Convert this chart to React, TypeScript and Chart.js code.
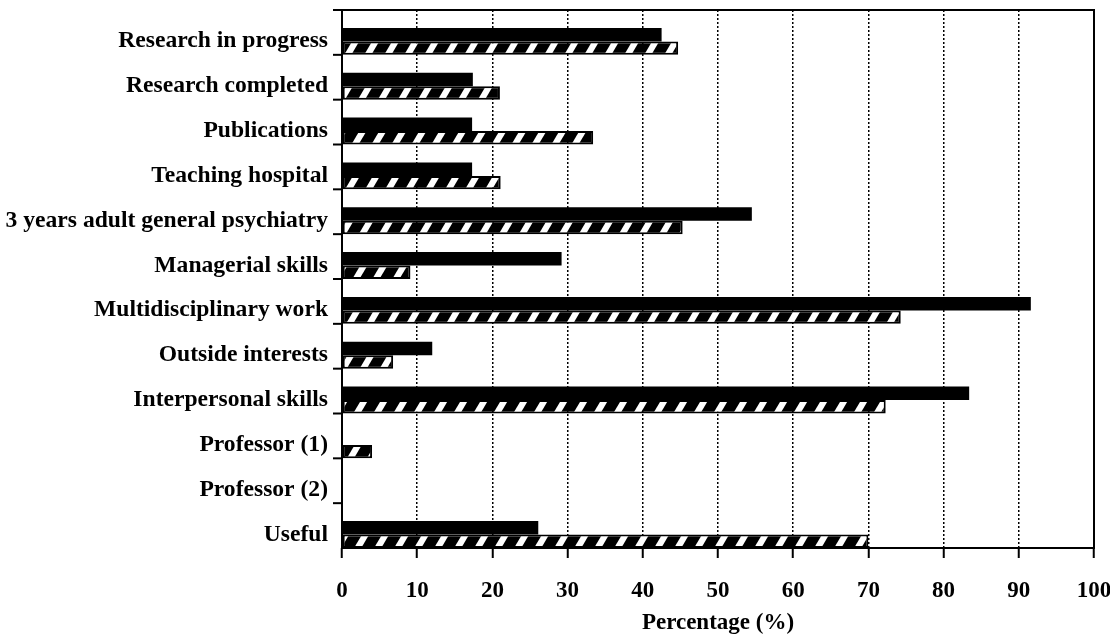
import React, { useEffect, useRef } from 'react';
import { Chart, registerables } from 'chart.js';

Chart.register(...registerables);

const categories = [
  'Research in progress',
  'Research completed',
  'Publications',
  'Teaching hospital',
  '3 years adult general psychiatry',
  'Managerial skills',
  'Multidisciplinary work',
  'Outside interests',
  'Interpersonal skills',
  'Professor (1)',
  'Professor (2)',
  'Useful',
];

const solidValues = [42.5, 17.4, 17.3, 17.3, 54.5, 29.2, 91.6, 12.0, 83.4, 0, 0, 26.1];
const hatchedValues = [44.7, 21.0, 33.4, 21.1, 45.3, 9.1, 74.3, 6.8, 72.3, 4.0, 0, 70.0];

const xTickValues = [0, 10, 20, 30, 40, 50, 60, 70, 80, 90, 100];
const xTitle = 'Percentage (%)';

const FAMILY = '"Liberation Serif", "Times New Roman", serif';
const FONT = { family: FAMILY, size: 23, weight: 'bold' as const };
const YFONT = { family: FAMILY, size: 23.6, weight: 'bold' as const };
const BAND_SHIFT = 0.7;

export default function App() {
  const ref = useRef<HTMLCanvasElement>(null);

  useEffect(() => {
    document.body.style.margin = '0';
    const canvas = ref.current!;

    const pc = document.createElement('canvas');
    const PW = 20, PH = 34;
    pc.width = PW;
    pc.height = PH;
    const p = pc.getContext('2d')!;
    p.fillStyle = '#000';
    p.fillRect(0, 0, PW, PH);
    p.strokeStyle = '#fff';
    p.lineWidth = 6.2;
    for (let dx = -2 * PW; dx <= 2 * PW; dx += PW) {
      p.beginPath();
      p.moveTo(dx - PW * 0.5, PH * 1.5);
      p.lineTo(dx + PW * 1.5, -PH * 0.5);
      p.stroke();
    }
    const pattern = canvas.getContext('2d')!.createPattern(pc, 'repeat')!;

    const framePlugin = {
      id: 'frame',
      afterDraw(chart: any) {
        const { ctx, chartArea } = chart;
        const { left, right, top, bottom } = chartArea;
        const yScale = chart.scales.y;
        ctx.save();
        ctx.setLineDash([]);
        ctx.strokeStyle = '#000';
        ctx.lineWidth = 2;
        ctx.strokeRect(left, top, right - left, bottom - top);
        for (let i = 0; i < categories.length; i++) {
          const py = yScale.getPixelForValue(i - BAND_SHIFT);
          ctx.beginPath();
          ctx.moveTo(left - 9, py);
          ctx.lineTo(left, py);
          ctx.stroke();
        }
        ctx.restore();
      },
    };

    const chart = new Chart(canvas, {
      type: 'bar',
      data: {
        datasets: [
          {
            data: categories.map((_, i) => ({ x: solidValues[i], y: i })),
            backgroundColor: '#000',
            borderWidth: 0,
            categoryPercentage: 0.6,
            barPercentage: 1,
          },
          {
            data: categories.map((_, i) => ({ x: hatchedValues[i], y: i })),
            backgroundColor: pattern as any,
            borderColor: '#000',
            borderWidth: 2,
            borderSkipped: false,
            categoryPercentage: 0.6,
            barPercentage: 1,
          },
        ],
      },
      options: {
        indexAxis: 'y',
        responsive: false,
        animation: false,
        layout: { padding: { left: 0, right: 16, top: 10, bottom: 0 } },
        plugins: {
          legend: { display: false },
          tooltip: { enabled: false },
        },
        scales: {
          x: {
            type: 'linear',
            min: 0,
            max: 100,
            afterBuildTicks: (s: any) => {
              s.ticks = xTickValues.map((v) => ({ value: v }));
            },
            afterFit: (s: any) => {
              s.height = 96;
              s.paddingLeft = 0;
              s.paddingRight = 0;
            },
            grid: {
              color: '#000',
              lineWidth: 1.5,
              drawTicks: true,
              tickLength: 10,
              tickColor: '#000',
              tickWidth: 2,
              tickBorderDash: [],
            },
            border: { display: false, dash: [2, 2] },
            ticks: {
              padding: 19,
              color: '#000',
              font: FONT,
              maxRotation: 0,
              autoSkip: false,
            },
            title: {
              display: true,
              text: xTitle,
              color: '#000',
              font: FONT,
              padding: { top: 4, bottom: 7 },
            },
          },
          y: {
            type: 'linear',
            reverse: true,
            offset: false,
            min: -BAND_SHIFT,
            max: categories.length - BAND_SHIFT,
            afterBuildTicks: (s: any) => {
              s.ticks = categories.map((_, i) => ({ value: i }));
            },
            afterFit: (s: any) => {
              s.width = 342;
              s.paddingTop = 0;
              s.paddingBottom = 0;
            },
            grid: { display: false, drawTicks: false },
            border: { display: false },
            ticks: {
              autoSkip: false,
              padding: 14,
              color: '#000',
              font: YFONT,
              callback: (v: any) => categories[v as number],
            },
          },
        },
      },
      plugins: [framePlugin],
    });

    return () => chart.destroy();
  }, []);

  return (
    <div style={{ width: 1110, height: 644 }}>
      <canvas ref={ref} width={1110} height={644} style={{ display: 'block' }} />
    </div>
  );
}
